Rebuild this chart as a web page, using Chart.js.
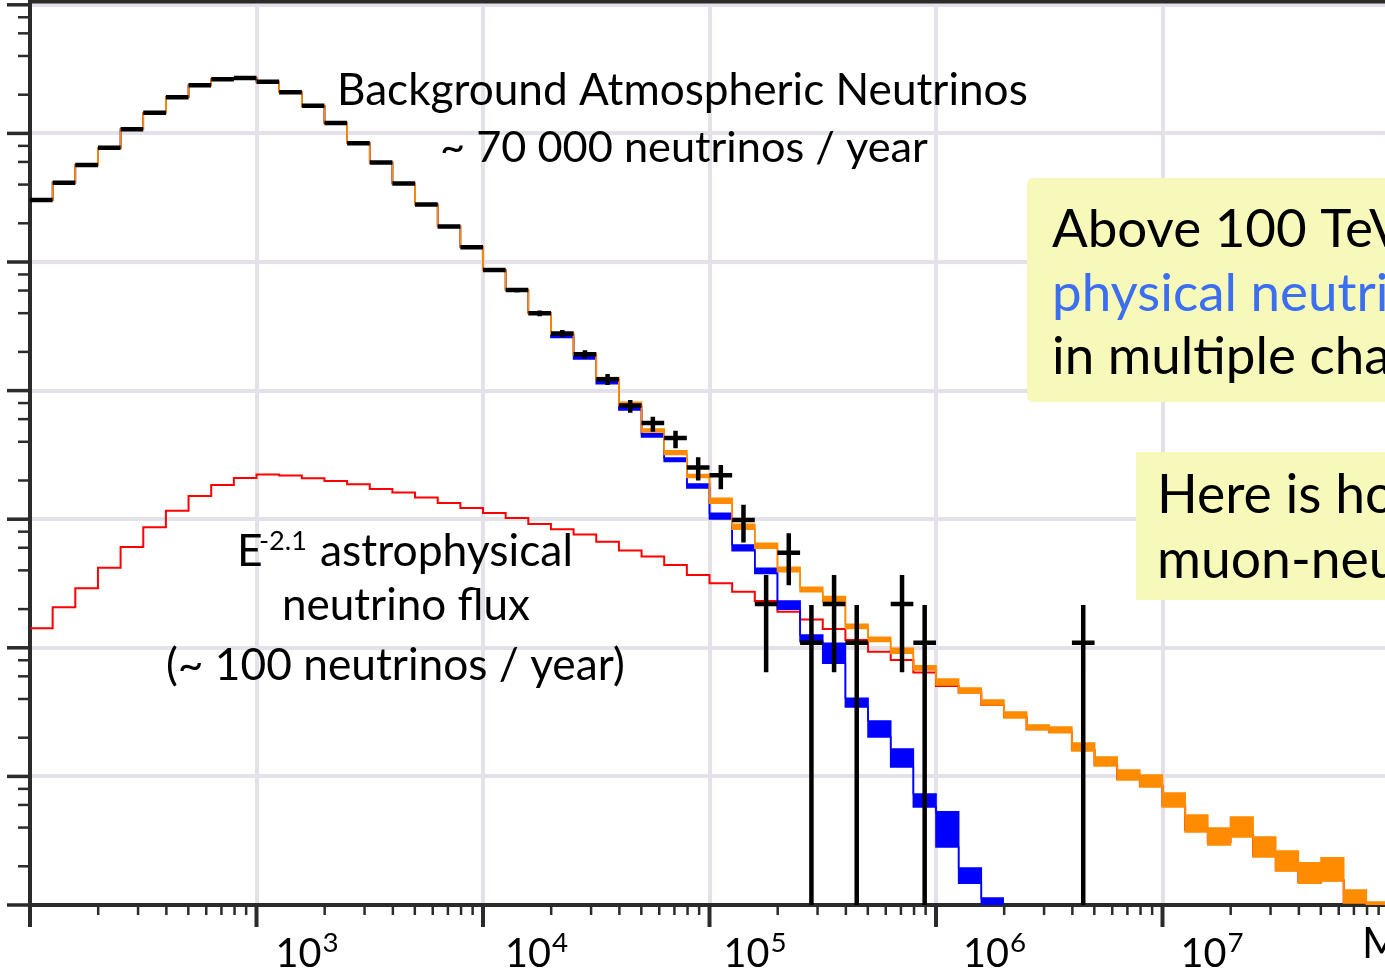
<!DOCTYPE html>
<html lang="en">
<head>
<meta charset="UTF-8">
<title>Muon neutrino energy spectrum</title>
<script src="https://cdn.jsdelivr.net/npm/chart.js"></script>
<style>
  html, body { margin: 0; padding: 0; overflow: hidden; background: #fff; }
  canvas { display: block; }
</style>
</head>
<body>
<canvas id="spectrum" width="1400" height="973"></canvas>
<script>
// binning: log10(E) from 2 to 8, 10 bins per decade
const LOG_E_MIN = 2;
const BIN_WIDTH = 0.1;
const N_BINS = 60;

// y axis (no labels in the picture): 1 event per bin, bottom of the axis
const Y_MIN = 0.00912;
const Y_MAX = 95900;

// observed events per bin (black crosses)
const dataCounts = [
  2767, 3776, 5177, 7059, 9822, 13215, 17410, 21578, 24040, 24606,
  23019, 19052, 14966, 10990, 7638, 5420, 3718, 2554, 1722, 1187,
  790, 552, 364, 254, 175, 112, 70, 51, 39, 23,
  20, 9, 2, 5, 1, 2, 1, null, 2, 1,
  null, null, null, null, null, null, 1, null, null, null,
  null, null, null, null, null, null, null, null, null, null
];
const dataLow = [
  null, null, null, null, null, null, null, null, null, null,
  null, null, null, null, null, null, null, null, null, null,
  762, 529, 345, 238, 162, 101, 61.4, 43.7, 32.5, 18.2,
  15.6, 6.0, 0.59, 2.8, 0, 0.59, 0, null, 0.59, 0,
  null, null, null, null, null, null, 0, null, null, null,
  null, null, null, null, null, null, null, null, null, null
];
const dataHigh = [
  null, null, null, null, null, null, null, null, null, null,
  null, null, null, null, null, null, null, null, null, null,
  818, 575, 383, 270, 188, 123, 77.1, 57.2, 44.5, 27.7,
  24.1, 11.8, 3.36, 7.1, 1.96, 3.36, 1.96, null, 3.36, 1.96,
  null, null, null, null, null, null, 1.96, null, null, null,
  null, null, null, null, null, null, null, null, null, null
];

// atmospheric + astrophysical expectation (orange band)
const totalHigh = [
  2767, 3776, 5177, 7059, 9822, 13215, 17410, 21578, 24040, 24606,
  23019, 19052, 14966, 10990, 7638, 5420, 3718, 2554, 1722, 1187,
  790, 552, 364, 256, 176, 115, 74, 45.9, 31.0, 20.3,
  13.27, 8.33, 5.93, 3.86, 2.70, 2.28, 1.39, 1.10, 0.905, 0.662,
  0.522, 0.444, 0.358, 0.289, 0.229, 0.221, 0.166, 0.129, 0.102, 0.0936,
  0.0678, 0.0457, 0.0362, 0.0441, 0.0308, 0.0240, 0.0194, 0.0212, 0.0119, 0.00963
];
const totalLow = [
  2767, 3776, 5177, 7059, 9822, 13215, 17410, 21578, 24040, 24606,
  23019, 19052, 14966, 10990, 7638, 5420, 3718, 2554, 1722, 1187,
  790, 552, 364, 250, 172, 110, 70, 43.5, 29.1, 19.3,
  12.13, 7.62, 5.42, 3.56, 2.49, 2.08, 1.29, 1.02, 0.827, 0.613,
  0.469, 0.406, 0.328, 0.260, 0.210, 0.199, 0.144, 0.110, 0.0856, 0.0755,
  0.0528, 0.0337, 0.0267, 0.0308, 0.0216, 0.0168, 0.0135, 0.0140, 0.00946, 0.00897
];

// atmospheric only (blue band)
const atmoHigh = [
  2767, 3776, 5177, 7059, 9822, 13215, 17410, 21578, 24040, 24606,
  23019, 19052, 14966, 10990, 7638, 5420, 3718, 2554, 1722, 1187,
  790, 552, 364, 246, 172, 110, 68.7, 42.0, 27.3, 17.14,
  10.15, 5.75, 3.79, 2.11, 1.148, 0.989, 0.370, 0.246, 0.149, 0.0666,
  0.0483, 0.0177, 0.01035
];
const atmoLow = [
  2767, 3776, 5177, 7059, 9822, 13215, 17410, 21578, 24040, 24606,
  23019, 19052, 14966, 10990, 7638, 5420, 3718, 2554, 1722, 1187,
  790, 552, 364, 236, 161, 103, 64.5, 39.8, 25.6, 15.96,
  9.16, 5.19, 3.46, 1.82, 1.018, 0.691, 0.316, 0.185, 0.108, 0.0528,
  0.0258, 0.0135, 0.0079
];

// E^-2.1 astrophysical flux (red line)
const astro = [
  1.294, 1.885, 2.649, 3.83, 5.55, 7.89, 10.63, 13.83, 16.84, 19.09,
  20.32, 19.95, 18.98, 18.09, 17.05, 15.67, 14.72, 13.46, 12.20, 11.16,
  10.20, 9.33, 8.37, 7.62, 6.94, 6.10, 5.21, 4.67, 4.02, 3.36,
  2.90, 2.49, 2.11, 1.742, 1.515, 1.278, 1.049, 0.851, 0.734, 0.585,
  0.461, 0.410, 0.328, 0.264, 0.212, 0.202, 0.147, 0.112, 0.087, 0.077,
  0.054, 0.035, 0.028, 0.032, 0.022, 0.017, 0.0137, 0.0142, 0.0096, 0.0090
];

const xTickExponents = [3, 4, 5, 6, 7];
const xLabelShift = [19, 22, 14, 27, 18];

const AXIS = '#2b2b2b';
const GRID = '#e4e1e8';
const ORANGE = '#ff8c00';
const BLUE = '#0000ff';
const RED = '#ff0000';
const FONT = 'Lato, "Open Sans", sans-serif';

const edges = [];
for (let i = 0; i <= N_BINS; i++) edges.push(Math.pow(10, LOG_E_MIN + i * BIN_WIDTH));

// step histogram: one point per left bin edge plus the closing edge
function histPoints(values) {
  const pts = values.map((v, i) => ({ x: edges[i], y: v }));
  pts.push({ x: edges[values.length], y: values[values.length - 1] });
  return pts;
}

// data crosses: horizontal bar over the bin, vertical error bar at its centre
function crossPoints() {
  const pts = [];
  dataCounts.forEach((c, i) => {
    if (c === null) return;
    pts.push({ x: edges[i], y: c }, { x: edges[i + 1], y: c }, { x: edges[i + 1], y: null });
    if (dataLow[i] !== null) {
      const xc = Math.sqrt(edges[i] * edges[i + 1]);
      const lo = dataLow[i] > 0 ? dataLow[i] : Y_MIN / 2;
      pts.push({ x: xc, y: lo }, { x: xc, y: dataHigh[i] }, { x: xc, y: null });
    }
  });
  return pts;
}

function fitSize(ctx, text, width) {
  ctx.font = `100px ${FONT}`;
  return 100 * width / ctx.measureText(text).width;
}

const notes = [
  { text: 'Background Atmospheric Neutrinos', x: 337, y: 105, w: 691 },
  { text: '~ 70 000 neutrinos / year', x: 440, y: 162, w: 488 },
  { text: 'neutrino flux', x: 282, y: 620, w: 248 },
  { text: '(~ 100 neutrinos / year)', x: 166, y: 680, w: 459 }
];

const decorations = {
  id: 'decorations',
  afterDraw(chart) {
    const { ctx, chartArea: a, scales: { x, y } } = chart;
    ctx.save();

    // top frame line
    ctx.fillStyle = AXIS;
    ctx.fillRect(a.left - 2, 0, chart.width, 3.5);

    // x tick marks (1..9 per decade)
    for (let k = 2; k <= 8; k++) {
      for (let m = 1; m <= 9; m++) {
        const v = m * Math.pow(10, k);
        if (v > x.max) break;
        const px = x.getPixelForValue(v);
        const w = m === 1 ? 4 : 2.5;
        const len = m === 1 ? 22 : 10;
        ctx.fillRect(px - w / 2, a.bottom, w, len);
      }
    }
    // y tick marks (1,2,4,6,8 per decade)
    for (let k = 0; k <= 7; k++) {
      [1, 2, 4, 6, 8].forEach(m => {
        const v = Y_MIN * m * Math.pow(10, k);
        if (v > y.max) return;
        const py = y.getPixelForValue(v);
        const w = m === 1 ? 3.5 : 2.5;
        const len = m === 1 ? 23 : 12;
        ctx.fillRect(a.left - len, py - w / 2, len, w);
      });
    }

    // x tick labels 10^k
    ctx.fillStyle = '#000';
    ctx.textBaseline = 'alphabetic';
    ctx.textAlign = 'left';
    const base = fitSize(ctx, '10', 46);
    xTickExponents.forEach((k, i) => {
      const px = x.getPixelForValue(Math.pow(10, k)) + xLabelShift[i];
      ctx.font = `${base}px ${FONT}`;
      ctx.fillText('10', px, 967);
      const w = ctx.measureText('10').width;
      ctx.font = `${base * 0.7}px ${FONT}`;
      ctx.fillText(String(k), px + w + 1, 952);
    });
    ctx.font = `42px ${FONT}`;
    ctx.fillText('Muon energy proxy [GeV]', 1362, 958);

    // annotations
    notes.forEach(n => {
      ctx.font = `${fitSize(ctx, n.text, n.w)}px ${FONT}`;
      ctx.fillText(n.text, n.x, n.y);
    });
    const astroSize = fitSize(ctx, 'astrophysical', 253);
    ctx.font = `${astroSize}px ${FONT}`;
    ctx.fillText('astrophysical', 320, 566);
    ctx.fillText('E', 237, 566);
    ctx.font = `${fitSize(ctx, '-2.1', 48)}px ${FONT}`;
    ctx.fillText('-2.1', 259, 550);

    // yellow boxes on the right
    ctx.fillStyle = '#f7f9ba';
    ctx.beginPath();
    ctx.roundRect(1027, 178, 440, 224, 6);
    ctx.fill();
    ctx.fillRect(1136, 452, 330, 148);

    const drawLine = (parts, x0, y0, size) => {
      ctx.font = `${size}px ${FONT}`;
      let cx = x0;
      parts.forEach(([t, c]) => {
        ctx.fillStyle = c;
        ctx.fillText(t, cx, y0);
        cx += ctx.measureText(t).width;
      });
    };
    const BLUE_TXT = '#3b6ef0';
    const s1 = fitSize(ctx, 'Above 100 Te', 321);
    drawLine([['Above 100 TeV, ', '#000'], ['astro-', BLUE_TXT]], 1052, 247, s1);
    drawLine([['physical neutrinos', BLUE_TXT], [' seen', '#000']], 1052, 311, s1);
    drawLine([['in multiple channels', '#000']], 1052, 374, s1);
    const s2 = fitSize(ctx, 'Here is h', 208);
    drawLine([['Here is how it looks in the', '#000']], 1157, 513, s2);
    drawLine([['muon-neutrino channel', '#000']], 1157, 578, s2);

    ctx.restore();
  }
};

new Chart(document.getElementById('spectrum').getContext('2d'), {
  type: 'line',
  data: {
    datasets: [
      { label: 'Data', data: crossPoints(), borderColor: '#000', borderWidth: 4.5,
        borderCapStyle: 'butt', spanGaps: false, fill: false, order: 1 },
      { label: 'Total upper', data: histPoints(totalHigh), stepped: true,
        borderColor: ORANGE, borderWidth: 1.6, fill: false, order: 2 },
      { label: 'Total lower', data: histPoints(totalLow), stepped: true,
        borderColor: ORANGE, borderWidth: 1.6, fill: '-1', backgroundColor: ORANGE, order: 2 },
      { label: 'Atmospheric upper', data: histPoints(atmoHigh), stepped: true,
        borderColor: BLUE, borderWidth: 1.6, fill: false, order: 3 },
      { label: 'Atmospheric lower', data: histPoints(atmoLow), stepped: true,
        borderColor: BLUE, borderWidth: 1.6, fill: '-1', backgroundColor: BLUE, order: 3 },
      { label: 'Astrophysical', data: histPoints(astro), stepped: true,
        borderColor: RED, borderWidth: 2, fill: false, order: 4 }
    ]
  },
  options: {
    responsive: false,
    animation: false,
    events: [],
    elements: { point: { radius: 0 }, line: { tension: 0 } },
    layout: { padding: { left: 30, right: 11, top: 2, bottom: 68 } },
    plugins: { legend: { display: false }, tooltip: { enabled: false } },
    scales: {
      x: {
        type: 'logarithmic',
        min: 100,
        max: 1e8,
        afterBuildTicks: s => { s.ticks = xTickExponents.map(k => ({ value: Math.pow(10, k) })); },
        afterFit: s => { s.height = 0; },
        ticks: { display: false },
        grid: { color: GRID, lineWidth: 4, drawTicks: false },
        border: { color: AXIS, width: 4 }
      },
      y: {
        type: 'logarithmic',
        min: Y_MIN,
        max: Y_MAX,
        afterBuildTicks: s => { s.ticks = [1, 2, 3, 4, 5, 6, 7].map(k => ({ value: Y_MIN * Math.pow(10, k) })); },
        afterFit: s => { s.width = 0; },
        ticks: { display: false },
        grid: { color: GRID, lineWidth: 4, drawTicks: false },
        border: { color: AXIS, width: 4 }
      }
    }
  },
  plugins: [decorations]
});
</script>
</body>
</html>
